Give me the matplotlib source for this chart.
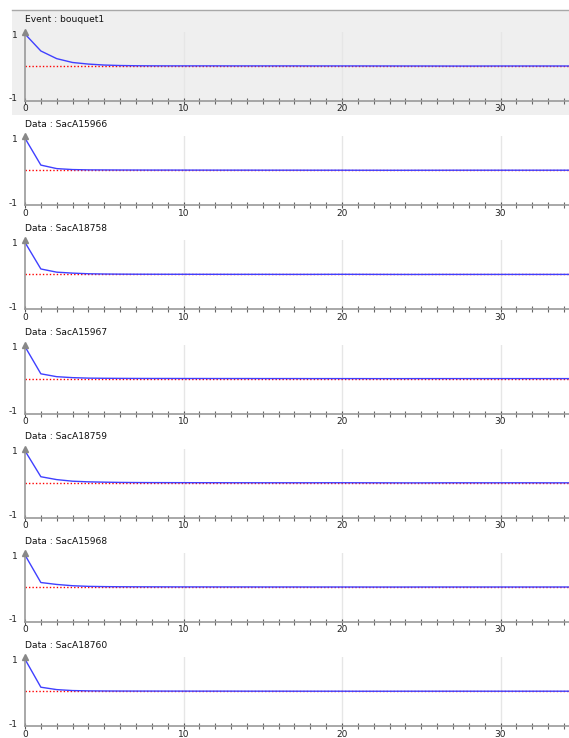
import numpy as np
import matplotlib.pyplot as plt

### Chart data
lags = list(range(36))

titles = ['Event : bouquet1', 'Data : SacA15966', 'Data : SacA18758', 'Data : SacA15967',
          'Data : SacA18759', 'Data : SacA15968', 'Data : SacA18760']

event_bouquet1 = [1.00, 0.47, 0.23, 0.11, 0.06, 0.03, 0.015, 0.008, 0.005, 0.004,
                  0.004, 0.004, 0.004, 0.003, 0.003, 0.003, 0.003, 0.003, 0.002, 0.002,
                  0.002, 0.002, 0.001, 0.001, 0.000, 0.000, -0.001, -0.002, -0.002, -0.001,
                  0.000, 0.000, 0.000, 0.000, 0.000, 0.000]
sac15966 = [1.00, 0.16, 0.05, 0.02, 0.010, 0.008, 0.006, 0.005, 0.004, 0.004,
            0.003, 0.003, 0.002, 0.002, 0.002, 0.001, 0.001, 0.001, 0.000, 0.000,
            0.000, -0.001, -0.001, -0.002, -0.002, -0.001, -0.001, 0.000, 0.000, 0.000,
            0.000, 0.000, 0.000, 0.000, 0.000, 0.000]
sac18758 = [1.00, 0.17, 0.07, 0.04, 0.02, 0.012, 0.008, 0.006, 0.005, 0.004,
            0.004, 0.003, 0.003, 0.002, 0.002, 0.002, 0.001, 0.001, 0.001, 0.002,
            0.003, 0.002, 0.001, 0.000, -0.001, -0.001, 0.000, 0.000, 0.000, 0.000,
            0.000, 0.000, 0.000, 0.000, 0.000, 0.000]
sac15967 = [1.00, 0.15, 0.06, 0.03, 0.015, 0.010, 0.007, 0.005, 0.004, 0.004,
            0.003, 0.003, 0.002, 0.002, 0.002, 0.001, 0.001, 0.001, 0.000, 0.000,
            0.000, 0.000, -0.001, -0.001, -0.001, 0.000, 0.000, 0.000, 0.000, 0.000,
            0.000, 0.000, 0.000, 0.000, 0.000, 0.000]
sac18759 = [1.00, 0.19, 0.10, 0.05, 0.03, 0.02, 0.012, 0.008, 0.006, 0.005,
            0.004, 0.003, 0.003, 0.002, 0.002, 0.001, 0.001, 0.001, 0.001, 0.002,
            0.002, 0.001, 0.000, -0.001, -0.002, -0.002, -0.001, 0.000, 0.000, 0.000,
            0.000, 0.000, 0.000, -0.001, -0.001, 0.000]
sac15968 = [1.00, 0.14, 0.08, 0.04, 0.02, 0.012, 0.008, 0.006, 0.005, 0.004,
            0.003, 0.003, 0.002, 0.002, 0.002, 0.001, 0.001, 0.001, 0.000, 0.000,
            0.000, 0.000, -0.001, -0.001, -0.001, 0.000, 0.000, 0.000, 0.000, 0.000,
            0.000, 0.000, 0.000, 0.000, 0.000, 0.000]
sac18760 = [1.00, 0.125, 0.05, 0.02, 0.010, 0.007, 0.005, 0.004, 0.004, 0.003,
            0.003, 0.002, 0.002, 0.002, 0.001, 0.001, 0.001, 0.000, 0.000, 0.000,
            0.000, -0.001, -0.001, -0.001, 0.000, 0.000, 0.000, 0.000, 0.000, 0.000,
            0.000, 0.000, 0.000, 0.000, 0.000, 0.000]

series = [event_bouquet1, sac15966, sac18758, sac15967, sac18759, sac15968, sac18760]
x_ticks = [0, 10, 20, 30]

### Layout (pixels)
W, H = 569, 738
fig = plt.figure(figsize=(W / 100, H / 100), dpi=100)
fig.patch.set_facecolor('white')

step = 104.2
ax_left = 25
axis_color = '#999999'

# grey band behind the event panel (own axes, drawn underneath)
bg = fig.add_axes([12 / W, 1 - 115 / H, (W - 12) / W, 105 / H], zorder=-1)
bg.set_facecolor('#efefef')
bg.set_xticks([])
bg.set_yticks([])
for s in ['left', 'right', 'bottom']:
    bg.spines[s].set_visible(False)
bg.spines['top'].set_color('#a8a8a8')
bg.spines['top'].set_linewidth(1)

for i, (title, vals) in enumerate(zip(titles, series)):
    top = 32 + step * i
    bottom = 101 + step * i
    ax = fig.add_axes([ax_left / W, 1 - bottom / H, (W - ax_left) / W, (bottom - top) / H])
    ax.set_facecolor('none')
    ax.set_xlim(0, (W - ax_left) / 15.85)
    ax.set_ylim(-1.094, 1.063)

    # light vertical grid
    for xt in x_ticks[1:]:
        ax.axvline(xt, color='#e6e6e6', lw=1, zorder=0)

    ax.axhline(0, color='red', lw=1, linestyle=(0, (1, 1.5)), zorder=1)
    ax.plot(lags, vals, color='#4040ff', lw=1, zorder=2)

    for s in ['top', 'right']:
        ax.spines[s].set_visible(False)
    for s in ['left', 'bottom']:
        ax.spines[s].set_color(axis_color)
        ax.spines[s].set_linewidth(1.2)

    # arrow on top of y axis
    ax.plot([0], [1.063], marker='^', color='#888888', markersize=4.5, clip_on=False, zorder=3)

    ax.set_xticks(x_ticks)
    ax.set_xticks(range(0, 35), minor=True)
    ax.tick_params(axis='x', which='major', direction='inout', length=5, width=0.8,
                   color='#555555', labelsize=6.5, pad=0, labelcolor='#222222')
    ax.tick_params(axis='x', which='minor', direction='inout', length=4, width=0.8,
                   color='#666666')
    ax.set_yticks([-1, 1])
    ax.set_yticklabels(['-1', '1'])
    ax.tick_params(axis='y', length=0, labelsize=6.5, pad=5, labelcolor='#222222')

    fig.text(25 / W, 1 - (20 + step * i) / H, title, fontsize=6.6, color='#111111',
             ha='left', va='center')

plt.savefig('out.png', dpi=100)
